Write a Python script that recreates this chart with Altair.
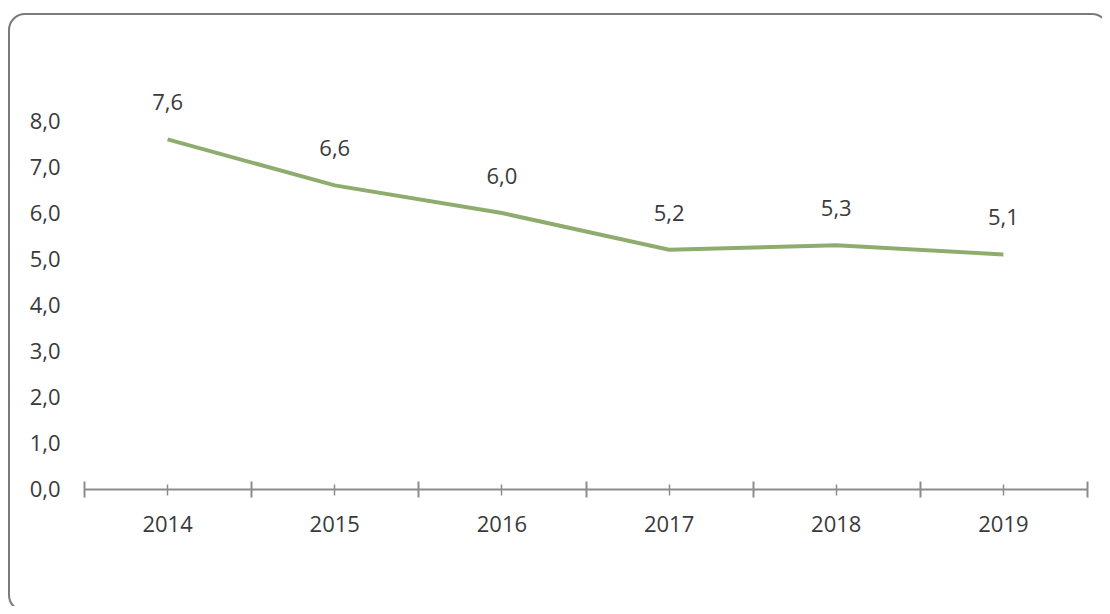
import altair as alt
import pandas as pd

years = ["2014", "2015", "2016", "2017", "2018", "2019"]
values = [7.6, 6.6, 6.0, 5.2, 5.3, 5.1]

df = pd.DataFrame({"year": years, "value": values})

FONT = "Open Sans"
FS = 22
TXT = "#3a3a3a"
AX = "#8c8c8c"

xscale = alt.Scale(domain=years, paddingInner=0, paddingOuter=0)
yscale = alt.Scale(domain=[0, 8], nice=False)

base = alt.Chart(df)

frame = base.mark_rect(
    fill=None, stroke="#7a7a7a", strokeWidth=2, cornerRadius=16
).encode(
    x=alt.value(-75), x2=alt.value(1024), y=alt.value(-107), y2=alt.value(490)
).transform_filter(alt.datum.year == "2014")

# main axis: domain + labels
main_axis = base.mark_line(opacity=0).encode(
    x=alt.X("year:N", scale=xscale, axis=alt.Axis(
        orient="bottom", title=None, labelAngle=0, domain=True, domainColor=AX,
        domainWidth=2, ticks=False, labelPadding=25, labelFont=FONT,
        labelFontSize=FS, labelColor=TXT, grid=False)),
    y=alt.Y("value:Q", scale=yscale, axis=alt.Axis(
        title=None, values=[0, 1, 2, 3, 4, 5, 6, 7, 8], domain=False, ticks=False,
        grid=False, labelPadding=24, labelFont=FONT, labelFontSize=FS, labelColor=TXT,
        labelExpr="replace(format(datum.value, '.1f'), '.', ',')")),
)

# boundary ticks (crossing axis)
major_ticks = base.mark_line(opacity=0).encode(
    x=alt.X("year:N", scale=xscale, axis=alt.Axis(
        orient="bottom", title=None, labels=False, domain=False, ticks=True,
        tickBand="extent", tickSize=16, offset=-8, tickColor=AX, tickWidth=2,
        grid=False)),
    y=alt.Y("value:Q", scale=yscale),
)

# center ticks (crossing axis)
minor_ticks = base.mark_line(opacity=0).encode(
    x=alt.X("year:N", scale=xscale, axis=alt.Axis(
        orient="bottom", title=None, labels=False, domain=False, ticks=True,
        tickBand="center", tickSize=11, offset=-5, tickColor=AX, tickWidth=1.5,
        grid=False)),
    y=alt.Y("value:Q", scale=yscale),
)

line = base.mark_line(color="#8fac6f", strokeWidth=4).encode(
    x=alt.X("year:N", scale=xscale, axis=None),
    y=alt.Y("value:Q", scale=yscale),
)

labels = base.transform_calculate(
    lab="replace(format(datum.value, '.1f'), '.', ',')"
).mark_text(font=FONT, fontSize=FS, color=TXT, baseline="middle", dy=-36).encode(
    x=alt.X("year:N", scale=xscale, axis=None),
    y=alt.Y("value:Q", scale=yscale),
    text="lab:N",
)

chart = alt.layer(frame, main_axis, major_ticks, minor_ticks, line, labels).resolve_axis(
    x="independent"
).properties(
    width=1003, height=368,
    background="white",
    autosize=alt.AutoSizeParams(type="none"),
    padding={"left": 76, "top": 113, "right": 15, "bottom": 117},
).configure_view(strokeWidth=0, stroke="transparent")

chart.save("out.html", embed_options={"renderer": "svg", "actions": False})
